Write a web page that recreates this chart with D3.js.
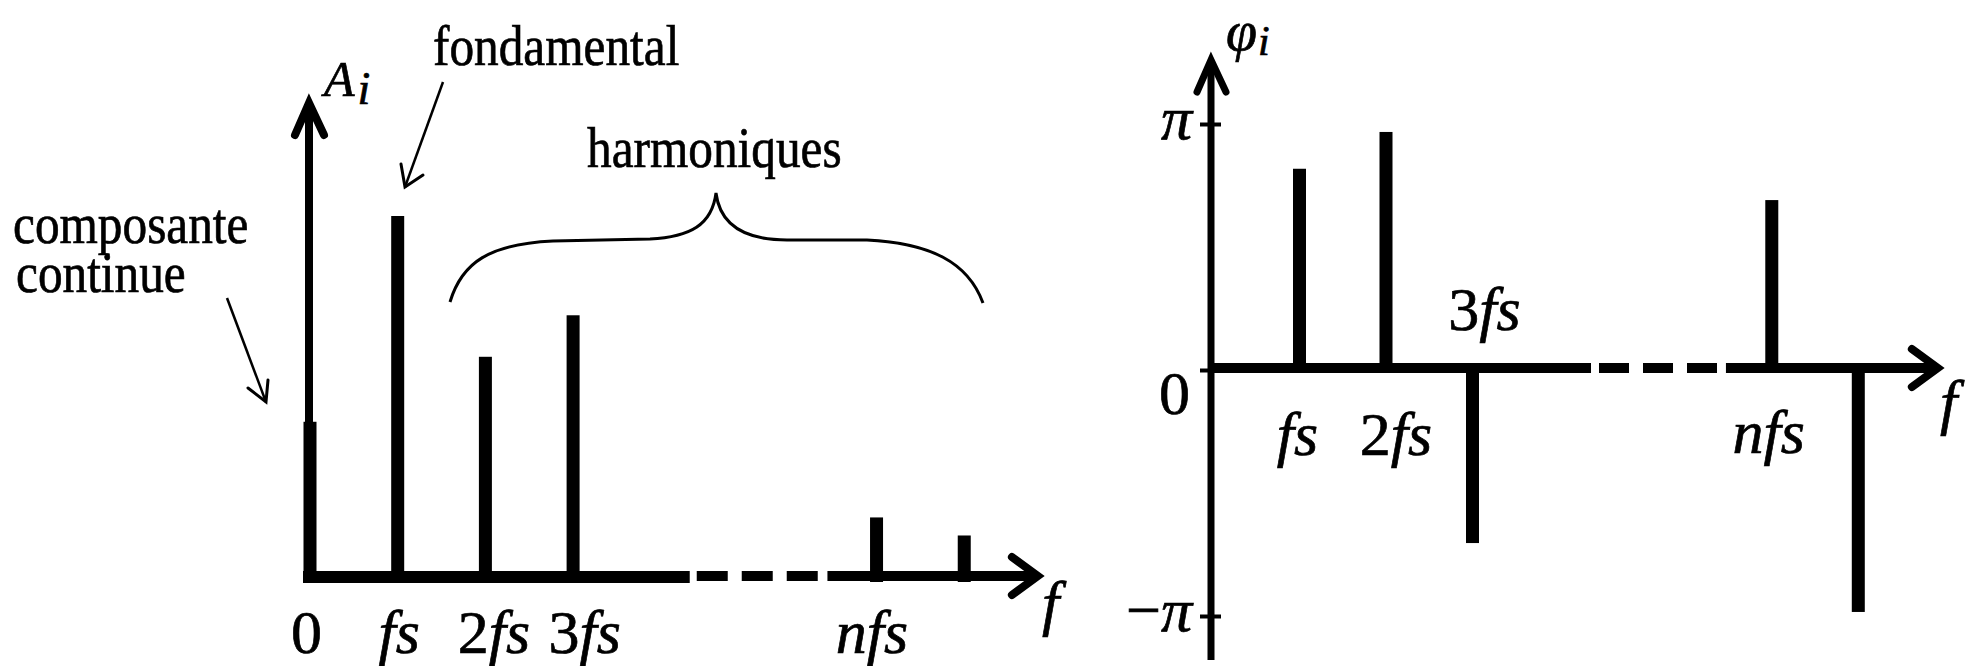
<!DOCTYPE html>
<html>
<head>
<meta charset="utf-8">
<script src="https://cdn.jsdelivr.net/npm/d3@7"></script>
<style>
  html, body { margin: 0; padding: 0; background: #fff; }
  svg { display: block; }
  text { font-family: "Liberation Serif", "Times New Roman", serif; fill: #000; stroke: #000; stroke-width: 0.7px; }
</style>
</head>
<body>
<script>
// Amplitude spectrum: harmonic positions (in units of fs; "n" sits at a nominal slot) and amplitudes
const ampPositions = [0, 1, 2, 3, 6.46, 7.46];
const ampValues = [4.3, 10, 6.1, 7.25, 1.65, 1.15];
const ampTickPositions = [0, 1, 2, 3, 6.46];
const ampTickLabels = ["0", "fs", "2fs", "3fs", "nfs"];

// Phase spectrum (radians)
const phasePositions = [1, 2, 3, 6.46, 7.46];
const phaseValues = [2.57, 3.04, -2.21, 2.17, -3.09];
const phaseTickPositions = [1, 2, 3, 6.46];
const phaseTickLabels = ["fs", "2fs", "3fs", "nfs"];
const phaseAxisTicks = [Math.PI, 0, -Math.PI];
const phaseAxisLabels = ["π", "0", "−π"];

// Annotation texts
const annFondamental = "fondamental";
const annHarmoniques = "harmoniques";
const annContinue = ["composante", "continue"];

const W = 1978, H = 666;
const svg = d3.select("body").append("svg").attr("width", W).attr("height", H);

// write a math label: digits and minus upright, letters italic
function mathText(sel, str) {
  for (const ch of str) {
    sel.append("tspan")
      .attr("font-style", /[0-9−]/.test(ch) ? "normal" : "italic")
      .text(ch);
  }
}
function chevron(g, tip, dir, w) {
  // open arrowhead: dir "up" or "right"
  let p;
  if (dir === "up") p = `M${tip[0] - 14},${tip[1] + 32} L${tip[0]},${tip[1]} L${tip[0] + 15},${tip[1] + 32}`;
  else p = `M${tip[0] - 26},${tip[1] - 19} L${tip[0]},${tip[1]} L${tip[0] - 26},${tip[1] + 19}`;
  g.append("path").attr("d", p).attr("fill", "none").attr("stroke", "#000")
    .attr("stroke-width", w).attr("stroke-linejoin", "miter").attr("stroke-linecap", "round");
}

/* ---------------- amplitude spectrum ---------------- */
const xA = d3.scaleLinear().domain([0, 8]).range([310, 310 + 8 * 87.7]);
const yA = d3.scaleLinear().domain([0, 10]).range([577, 216]);
const gA = svg.append("g");

// vertical axis
const axAx = 309;
gA.append("line").attr("x1", axAx).attr("x2", axAx).attr("y1", yA(0) + 6).attr("y2", 105)
  .attr("stroke", "#000").attr("stroke-width", 8);
chevron(gA, [axAx, 103], "up", 8);

// horizontal axis: solid, broken (dashed), solid with arrow
gA.append("line").attr("x1", 303).attr("x2", xA(4.33)).attr("y1", yA(0)).attr("y2", yA(0))
  .attr("stroke", "#000").attr("stroke-width", 12);
gA.append("line").attr("x1", xA(4.33) + 7).attr("x2", xA(5.9)).attr("y1", yA(0) - 1).attr("y2", yA(0) - 1)
  .attr("stroke", "#000").attr("stroke-width", 10).attr("stroke-dasharray", "31,14");
gA.append("line").attr("x1", xA(5.9)).attr("x2", xA(8.3) - 3).attr("y1", yA(0) - 1).attr("y2", yA(0) - 1)
  .attr("stroke", "#000").attr("stroke-width", 10);
chevron(gA, [xA(8.3), yA(0) - 1], "right", 8);

// spectral lines
gA.selectAll("rect.amp").data(ampValues).join("rect").attr("class", "amp")
  .attr("x", (d, i) => xA(ampPositions[i]) - 6.5)
  .attr("width", 13)
  .attr("y", d => yA(d))
  .attr("height", d => yA(0) - yA(d) + 5)
  .attr("fill", "#000");

// frequency labels
const ampAxis = d3.axisBottom(xA).tickValues(ampTickPositions).tickSize(0).tickFormat("");
const ampAxisG = gA.append("g").attr("transform", `translate(0,${yA(0)})`).call(ampAxis);
ampAxisG.select(".domain").remove();
const ampDx = [-4, 1, 8, 11, -5];
ampAxisG.selectAll(".tick text").each(function (d, i) {
  const t = d3.select(this).attr("y", 76).attr("dy", 0).attr("dx", ampDx[i])
    .attr("font-size", 62).attr("fill", "#000").attr("text-anchor", "middle")
    .style("font-family", '"Liberation Serif", "Times New Roman", serif');
  mathText(t, ampTickLabels[i]);
});
const fA = gA.append("text").attr("x", 1042).attr("y", 624).attr("font-size", 62);
mathText(fA, "f");

// axis title A_i
const tA = gA.append("text").attr("x", 324).attr("y", 96).attr("font-size", 50).attr("font-style", "italic");
tA.append("tspan").text("A");
tA.append("tspan").attr("dx", 3).attr("dy", 8).attr("font-size", 46).text("i");

// annotations
function annText(x, y, str) {
  gA.append("text").attr("transform", `translate(${x},${y}) scale(0.85,1)`)
    .attr("font-size", 58).text(str);
}
annText(433, 65, annFondamental);
annText(587, 167, annHarmoniques);
annText(13, 243, annContinue[0]);
annText(16, 292, annContinue[1]);

function thinArrow(from, to, w1, w2) {
  gA.append("line").attr("x1", from[0]).attr("y1", from[1]).attr("x2", to[0]).attr("y2", to[1])
    .attr("stroke", "#000").attr("stroke-width", 2.5);
  gA.append("path").attr("d", `M${w1[0]},${w1[1]} L${to[0]},${to[1]} L${w2[0]},${w2[1]}`)
    .attr("fill", "none").attr("stroke", "#000").attr("stroke-width", 3)
    .attr("stroke-linejoin", "miter").attr("stroke-linecap", "round");
}
thinArrow([443, 82], [405, 187], [401, 164], [423, 175]);
thinArrow([227, 298], [266, 402], [248, 388], [268, 380]);

// brace over the harmonics
gA.append("path")
  .attr("d", "M450,302 C462,262 490,244 553,241 L650,239 C690,237 712,225 716,193 " +
             "C720,225 745,240 787,240 L867,240 C930,243 968,262 983,303")
  .attr("fill", "none").attr("stroke", "#000").attr("stroke-width", 3);

/* ---------------- phase spectrum ---------------- */
const xP = d3.scaleLinear().domain([0, 8]).range([1213, 1213 + 8 * 86.5]);
const yP = d3.scaleLinear().domain([-Math.PI, Math.PI]).range([616, 124]);
const gP = svg.append("g");
const axPx = 1211;

// vertical axis with ticks at π, 0, −π
const phaseAxis = d3.axisLeft(yP).tickValues(phaseAxisTicks).tickSize(11).tickPadding(8)
  .tickFormat((d, i) => phaseAxisLabels[i]);
const phaseAxisG = gP.append("g").attr("transform", `translate(${axPx},0)`).call(phaseAxis);
phaseAxisG.select(".domain").remove();
phaseAxisG.selectAll(".tick line").attr("x1", -11).attr("x2", d => d === 0 ? 0 : 10)
  .attr("stroke", "#000").attr("stroke-width", 4);
phaseAxisG.selectAll(".tick text").each(function (d, i) {
  const t = d3.select(this).text(null).attr("font-size", 62).attr("fill", "#000")
    .attr("dy", d === 0 ? 43 : 14).attr("x", d === 0 ? -21 : -19)
    .style("font-family", '"Liberation Serif", "Times New Roman", serif');
  if (d === 0) t.append("tspan").text("0");
  else {
    if (d < 0) t.append("tspan").text("−");
    t.append("tspan").attr("font-style", "italic").text("π");
  }
});
gP.append("line").attr("x1", axPx).attr("x2", axPx).attr("y1", 660).attr("y2", 62)
  .attr("stroke", "#000").attr("stroke-width", 7);
chevron(gP, [axPx, 60], "up", 7);

// horizontal axis
gP.append("line").attr("x1", axPx).attr("x2", xP(4.37)).attr("y1", yP(0) - 2).attr("y2", yP(0) - 2)
  .attr("stroke", "#000").attr("stroke-width", 10);
gP.append("line").attr("x1", xP(4.37) + 8).attr("x2", xP(5.93)).attr("y1", yP(0) - 2).attr("y2", yP(0) - 2)
  .attr("stroke", "#000").attr("stroke-width", 10).attr("stroke-dasharray", "30,14");
gP.append("line").attr("x1", xP(5.93)).attr("x2", xP(8.38) - 3).attr("y1", yP(0) - 2).attr("y2", yP(0) - 2)
  .attr("stroke", "#000").attr("stroke-width", 10);
chevron(gP, [xP(8.38), yP(0) - 2], "right", 8);

// phase lines
gP.selectAll("rect.ph").data(phaseValues).join("rect").attr("class", "ph")
  .attr("x", (d, i) => xP(phasePositions[i]) - 6.5)
  .attr("width", 13)
  .attr("y", d => Math.min(yP(d), yP(0) - 2))
  .attr("height", d => Math.abs(yP(d) - (yP(0) - 2)))
  .attr("fill", "#000");

// frequency labels (3fs sits above the axis, next to its negative line)
const phDx = [-2, 10, 12, -3];
const phY = [85, 85, -40, 83];
phaseTickLabels.forEach((lab, i) => {
  const t = gP.append("text").attr("x", xP(phaseTickPositions[i]) + phDx[i])
    .attr("y", yP(0) + phY[i]).attr("font-size", 62).attr("text-anchor", "middle");
  mathText(t, lab);
});
const fP = gP.append("text").attr("x", 1940).attr("y", 423).attr("font-size", 62);
mathText(fP, "f");

// axis title φ_i
const tP = gP.append("text").attr("x", 1226).attr("y", 50).attr("font-size", 56).attr("font-style", "italic");
tP.append("tspan").text("φ");
tP.append("tspan").attr("dx", 1).attr("dy", 5).attr("font-size", 42).text("i");
</script>
</body>
</html>
